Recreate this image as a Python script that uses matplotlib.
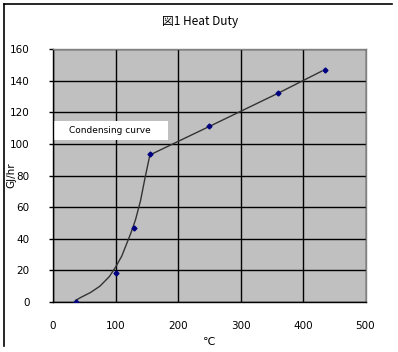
import matplotlib
matplotlib.use("Agg")
import matplotlib.pyplot as plt
from matplotlib.patches import Rectangle
from matplotlib.lines import Line2D

plt.rcParams['font.family'] = ['DejaVu Sans', 'Noto Sans CJK JP']

# measured points (markers)
temp_pts = [37, 100, 129, 155, 250, 360, 435]
duty_pts = [0, 18.5, 47, 93.4, 111, 132, 146.8]

# condensing curve
temp_curve = [36, 45, 60, 75, 90, 100, 110, 118, 125, 132, 140, 147, 155, 250, 360, 430]
duty_curve = [1, 3, 6, 10, 16, 22, 29, 37, 44, 52, 64, 78, 93, 111, 132, 146]

xticks = [0, 100, 200, 300, 400, 500]
yticks = [0, 20, 40, 60, 80, 100, 120, 140, 160]

fig = plt.figure(figsize=(3.98, 3.52), dpi=100)
ax = fig.add_axes([53 / 398, 1 - 302 / 352, 312.5 / 398, 253 / 352])
ax.set_facecolor('#c0c0c0')

ax.plot(temp_curve, duty_curve, color='#333333', lw=1.0, zorder=3)
ax.plot(temp_pts, duty_pts, ls='none', marker='D', ms=2.5, color='#000080', zorder=4)

ax.set_xlim(0, 500)
ax.set_ylim(0, 160)
ax.set_xticks(xticks)
ax.set_yticks(yticks)
ax.grid(True, color='black', lw=1.0)
ax.set_axisbelow(True)
ax.tick_params(axis='both', labelsize=7.5, length=3, width=1, colors='black')
ax.tick_params(axis='x', length=0, pad=14)
ax.tick_params(axis='y', pad=14)

for side in ['left', 'bottom']:
    ax.spines[side].set_color('black')
    ax.spines[side].set_linewidth(1)
for side in ['right', 'top']:
    ax.spines[side].set_color('#808080')
    ax.spines[side].set_linewidth(1)

ax.set_xlabel('℃', fontsize=8, labelpad=4,
              family=['DejaVu Sans', 'Noto Sans CJK JP'])
ax.set_ylabel('GJ/hr', fontsize=7.5)
ax.yaxis.set_label_coords(-0.118, 0.5)

# label box
ax.add_patch(Rectangle((0, 102.6), 184, 11.6, facecolor='white', edgecolor='none', zorder=2))
ax.text(25, 108.4, 'Condensing curve', fontsize=6.5, va='center', ha='left', zorder=5)

fig.text(200 / 398, 1 - 22 / 352, '図1 Heat Duty', fontsize=8.5, ha='center', va='center',
         family=['Noto Sans CJK JP', 'DejaVu Sans'])

# outer frame (left and top only visible)
fig.add_artist(Line2D([4 / 398, 4 / 398], [1 - 4 / 352, 1 - 346 / 352], color='black', lw=1.2))
fig.add_artist(Line2D([4 / 398, 392 / 398], [1 - 4 / 352, 1 - 4 / 352], color='black', lw=1.2))

fig.savefig('out.png', dpi=100)
